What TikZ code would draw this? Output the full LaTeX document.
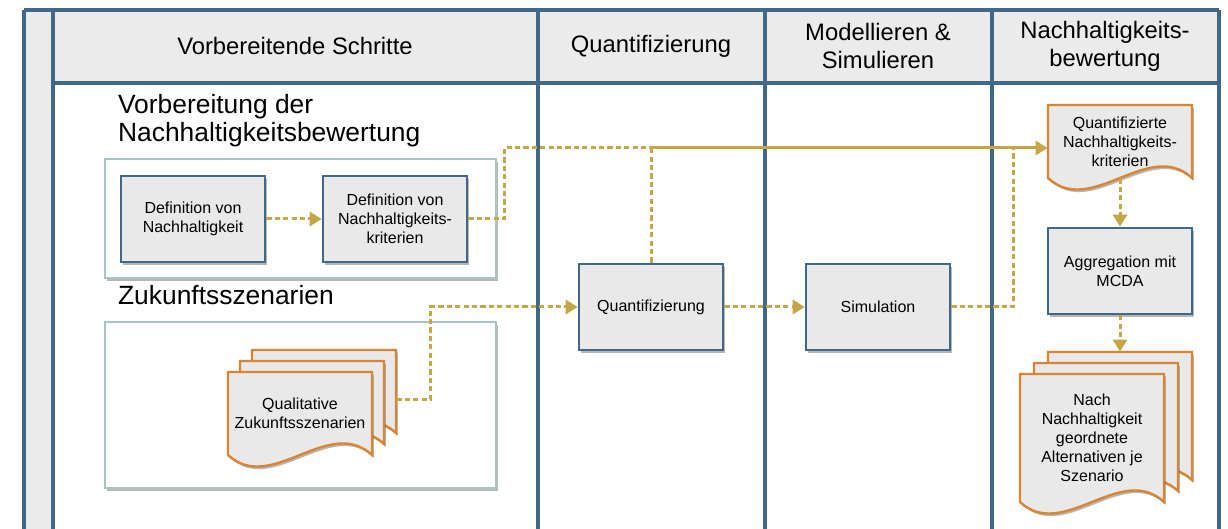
\documentclass[tikz,border=0pt]{standalone}
\usepackage{fontspec}
\setmainfont{Liberation Sans}
\usepackage{tikz}
\usetikzlibrary{calc,arrows.meta,shadows}
\definecolor{laneblue}{RGB}{64,104,138}
\definecolor{headgray}{RGB}{235,235,235}
\definecolor{boxgray}{RGB}{233,233,234}
\definecolor{docorange}{RGB}{217,133,52}
\definecolor{flowgold}{RGB}{197,167,72}
\definecolor{groupline}{RGB}{170,196,196}

\tikzset{
    softshadow/.style={drop shadow={shadow xshift=0.9pt, shadow yshift=-1.3pt, opacity=0.4, fill=black!70}},
    lane/.style={draw=laneblue, line width=1.6pt},
    lanetitle/.style={align=center, font=\fontsize{11.9}{14}\selectfont},
    section/.style={anchor=west, align=left, font=\fontsize{13.2}{14}\selectfont},
    groupbox/.style={draw=groupline, line width=0.7pt, fill=white, softshadow},
    stepbox/.style={draw=laneblue, line width=1.3pt, fill=boxgray, minimum width=72pt, minimum height=43pt, align=center, font=\fontsize{8}{9.5}\selectfont, softshadow},
    docline/.style={draw=docorange, line width=1.2pt, fill=boxgray, softshadow},
    doctext/.style={inner sep=0pt, align=center, font=\fontsize{8}{9.5}\selectfont},
    flow/.style={draw=flowgold, line width=1.5pt, dash pattern=on 2.6pt off 1.6pt},
    solidflow/.style={draw=flowgold, line width=1.5pt},
    tip/.style={-{Triangle[length=6pt,width=7pt]}}
}

\newcommand{\docpage}[6]{%
    \draw[docline] (#2,#3) -- (#4,#3) -- (#4,#5)
        .. controls ({#4-0.3*(#4-#2)},{#5-40}) and ({#2+0.3*(#4-#2)},{#5+40}) .. (#2,#5) -- cycle;
    \node[doctext, minimum width={(#4-#2)*0.5pt}, minimum height={(#5-#3)*0.5pt}] (#1) at ({(#2+#4)/2},{(#3+#5)/2}) {#6};
}

\begin{document}
\begin{tikzpicture}[x=0.5pt, y=-0.5pt]
        \useasboundingbox (0,0) rectangle (1228,529);
        \fill[white] (0,0) rectangle (1228,529);
        \fill[headgray] (53,10) rectangle (1219,83); \fill[headgray] (24,10) rectangle (53,535);
        \draw[lane] (24,10) -- (1219,10); \draw[lane] (53,83) -- (1219,83);
        \foreach \x in {24,53,538,765,992,1219} \draw[lane] (\x,10) -- (\x,535);

        \node[lanetitle] (h1) at (295,46) {Vorbereitende Schritte};
        \node[lanetitle] (h2) at (651,46) {Quantifizierung};
        \node[lanetitle] (h3) at (878,46) {Modellieren \&\\Simulieren};
        \node[lanetitle] (h4) at (1105,46) {Nachhaltigkeits-\\bewertung};

        \node[section] (prep) at (111,121) {Vorbereitung der\\Nachhaltigkeitsbewertung};
        \node[section] (future) at (111,295) {Zukunftsszenarien};
        \draw[groupbox] (105,159) rectangle (496,278);
        \draw[groupbox] (105,322) rectangle (496,488);

        \node[stepbox] (defn) at (193,219) {Definition von\\Nachhaltigkeit};
        \node[stepbox] (defk) at (395,219) {Definition von\\Nachhaltigkeits-\\kriterien};
        \node[stepbox] (quant) at (651,307) {Quantifizierung};
        \node[stepbox] (sim) at (878,307) {Simulation};
        \node[stepbox] (aggr) at (1120,271) {Aggregation mit\\MCDA};

        \docpage{qs1}{252}{350}{396}{433}{}
        \docpage{qs2}{240}{361}{384}{444}{}
        \docpage{qs3}{228}{372}{372}{455}{Qualitative\\Zukunftsszenarien}
        \docpage{qkrit}{1048}{105}{1192}{178}{Quantifizierte\\Nachhaltigkeits-\\kriterien}
        \docpage{res1}{1048}{352}{1192}{480}{}
        \docpage{res2}{1034}{363}{1178}{491}{}
        \docpage{res3}{1020}{374}{1164}{502}{Nach\\Nachhaltigkeit\\geordnete\\Alternativen je\\Szenario}

        \coordinate (top) at (651,148);
        \coordinate (merge) at (1013,148);
        \draw[flow,tip] (defn) -- (defk);
        \draw[flow] (defk.east) -- ++(36,0) |- (top);
        \draw[flow] (quant.north) -- (top);
        \draw[solidflow,tip] (top) -- (top -| qkrit.west);
        \draw[flow] (sim.east) -| (merge);
        \draw[flow,tip] ([yshift=-4pt]qs1.east) -- ++(34,0) |- (quant.west);
        \draw[flow,tip] (quant) -- (sim);
        \draw[flow,tip] (qkrit.south) -- (aggr.north);
        \draw[flow,tip] (aggr.south) -- (res1.north);
    \end{tikzpicture}
\end{document}
